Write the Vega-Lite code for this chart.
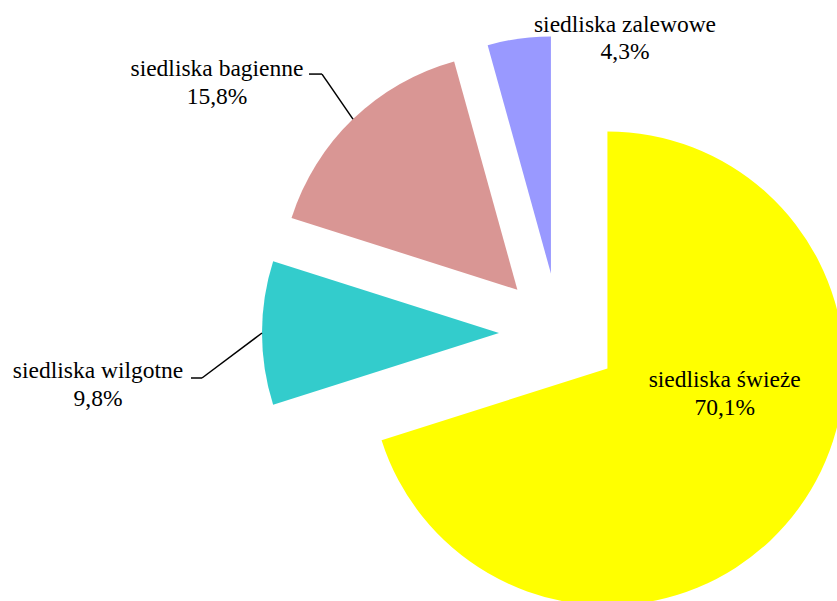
{
  "$schema": "https://vega.github.io/schema/vega-lite/v6.json",
  "width": 837,
  "height": 601,
  "autosize": {"type": "none"},
  "padding": 0,
  "background": "white",
  "config": {"view": {"stroke": null}},
  "data": {
    "values": [
      {"category": "siedliska świeże", "value": 70.1},
      {"category": "siedliska wilgotne", "value": 9.8},
      {"category": "siedliska bagienne", "value": 15.8},
      {"category": "siedliska zalewowe", "value": 4.3}
    ]
  },
  "transform": [
    {"stack": "value", "groupby": [], "offset": "normalize", "as": ["s0", "s1"]},
    {"calculate": "(datum.s0 + datum.s1) * PI", "as": "mid"},
    {"calculate": "sin(datum.mid)", "as": "ex"},
    {"calculate": "cos(datum.mid)", "as": "ey"},
    {"calculate": "4.95 * datum.ex", "as": "ox"},
    {"calculate": "4.95 * datum.ey", "as": "oy"},
    {"calculate": "[datum.category, replace(format(datum.value, '.1f'), '.', ',') + '%']", "as": "txt"}
  ],
  "layer": [
    {
      "mark": {"type": "arc", "radius": 237, "stroke": null},
      "encoding": {
        "x": {"field": "ex", "type": "quantitative", "scale": {"domain": [-9.3167, 4.6333], "nice": false, "zero": false}, "axis": null},
        "y": {"field": "ey", "type": "quantitative", "scale": {"domain": [-4.4667, 5.55], "nice": false, "zero": false}, "axis": null},
        "theta": {"field": "s0", "type": "quantitative", "scale": {"domain": [0, 1], "range": [0, 6.283185307179586]}},
        "theta2": {"field": "s1"},
        "color": {
          "field": "category",
          "type": "nominal",
          "scale": {
            "domain": ["siedliska świeże", "siedliska wilgotne", "siedliska bagienne", "siedliska zalewowe"],
            "range": ["#FFFF00", "#33CCCC", "#D99694", "#9999FF"]
          },
          "legend": null
        }
      }
    },
    {
      "transform": [{"filter": "datum.category == 'siedliska wilgotne'"}],
      "mark": {"type": "rule", "color": "black", "strokeWidth": 1.5, "x2Offset": -60, "y2Offset": 45},
      "encoding": {
        "x": {"field": "ox", "type": "quantitative"},
        "y": {"field": "oy", "type": "quantitative"},
        "x2": {"field": "ox"},
        "y2": {"field": "oy"}
      }
    },
    {
      "transform": [{"filter": "datum.category == 'siedliska wilgotne'"}],
      "mark": {"type": "rule", "color": "black", "strokeWidth": 1.5, "xOffset": -60, "x2Offset": -71, "yOffset": 45, "y2Offset": 45},
      "encoding": {
        "x": {"field": "ox", "type": "quantitative"},
        "y": {"field": "oy", "type": "quantitative"},
        "x2": {"field": "ox"},
        "y2": {"field": "oy"}
      }
    },
    {
      "transform": [{"filter": "datum.category == 'siedliska bagienne'"}],
      "mark": {"type": "rule", "color": "black", "strokeWidth": 1.5, "x2Offset": -31, "y2Offset": -45},
      "encoding": {
        "x": {"field": "ox", "type": "quantitative"},
        "y": {"field": "oy", "type": "quantitative"},
        "x2": {"field": "ox"},
        "y2": {"field": "oy"}
      }
    },
    {
      "transform": [{"filter": "datum.category == 'siedliska bagienne'"}],
      "mark": {"type": "rule", "color": "black", "strokeWidth": 1.5, "xOffset": -31, "x2Offset": -44, "yOffset": -45, "y2Offset": -45},
      "encoding": {
        "x": {"field": "ox", "type": "quantitative"},
        "y": {"field": "oy", "type": "quantitative"},
        "x2": {"field": "ox"},
        "y2": {"field": "oy"}
      }
    },
    {
      "transform": [{"filter": "datum.category == 'siedliska świeże'"}],
      "mark": {"type": "text", "font": "Liberation Serif", "fontSize": 23.5, "lineHeight": 28, "color": "black", "align": "center", "baseline": "alphabetic", "dx": -74, "dy": -121},
      "encoding": {
        "x": {"field": "ox", "type": "quantitative"},
        "y": {"field": "oy", "type": "quantitative"},
        "text": {"field": "txt"}
      }
    },
    {
      "transform": [{"filter": "datum.category == 'siedliska wilgotne'"}],
      "mark": {"type": "text", "font": "Liberation Serif", "fontSize": 23.5, "lineHeight": 28, "color": "black", "align": "center", "baseline": "alphabetic", "dx": -164, "dy": 45},
      "encoding": {
        "x": {"field": "ox", "type": "quantitative"},
        "y": {"field": "oy", "type": "quantitative"},
        "text": {"field": "txt"}
      }
    },
    {
      "transform": [{"filter": "datum.category == 'siedliska bagienne'"}],
      "mark": {"type": "text", "font": "Liberation Serif", "fontSize": 23.5, "lineHeight": 27.5, "color": "black", "align": "center", "baseline": "alphabetic", "dx": -136, "dy": -43},
      "encoding": {
        "x": {"field": "ox", "type": "quantitative"},
        "y": {"field": "oy", "type": "quantitative"},
        "text": {"field": "txt"}
      }
    },
    {
      "transform": [{"filter": "datum.category == 'siedliska zalewowe'"}],
      "mark": {"type": "text", "font": "Liberation Serif", "fontSize": 23.5, "lineHeight": 27.5, "color": "black", "align": "center", "baseline": "alphabetic", "dx": 106, "dy": -7},
      "encoding": {
        "x": {"field": "ox", "type": "quantitative"},
        "y": {"field": "oy", "type": "quantitative"},
        "text": {"field": "txt"}
      }
    }
  ]
}
